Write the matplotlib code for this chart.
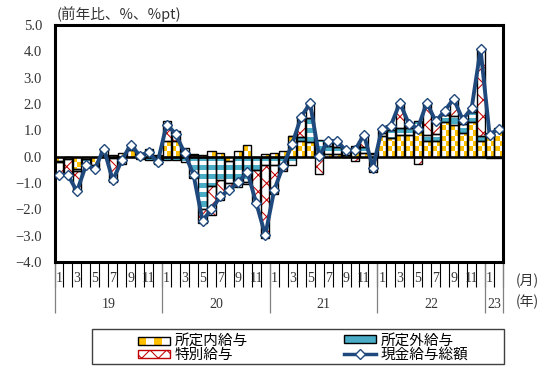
import numpy as np
import matplotlib.pyplot as plt
from matplotlib.colors import ListedColormap
from matplotlib.patches import Patch, Rectangle
from matplotlib.lines import Line2D
from matplotlib.path import Path

plt.rcParams['font.family'] = ['Noto Sans CJK JP', 'DejaVu Sans']
plt.rcParams['hatch.linewidth'] = 0.75

# ---- data (前年比, %, %pt), Jan 2019 - Feb 2023 ----
years = ['19', '20', '21', '22', '23']
months = list(range(1, 13)) * 4 + [1, 2]

scheduled = [-0.15, -0.10, -0.45, -0.10, -0.30, 0.05, 0.08, 0.15, 0.25, 0.10, 0.15, 0.05,
             0.60, 0.60, 0.15, 0.05, 0.08, 0.20, 0.15, -0.15, 0.20, 0.45, 0.00, 0.10,
             0.15, 0.20, 0.78, 0.60, 0.55, 0.15, 0.10, 0.10, 0.05, 0.20, 0.15, 0.10,
             0.80, 0.72, 0.84, 0.84, 0.95, 0.58, 0.60, 1.30, 1.20, 0.90, 1.30, 0.60,
             0.84, 1.05]
overtime = [-0.05, 0.00, -0.10, -0.20, -0.05, 0.00, -0.05, -0.10, 0.05, -0.10, -0.12, -0.10,
            -0.14, -0.12, -0.20, -0.80, -2.00, -1.10, -0.90, -0.85, -0.88, -0.95, -0.50, -0.30,
            -0.30, -0.30, -0.30, 0.15, 0.90, 0.50, 0.30, 0.25, 0.20, 0.22, 0.20, 0.05,
            0.10, 0.30, 0.25, 0.25, 0.40, 0.26, 0.26, 0.30, 0.35, 0.35, 0.40, 0.20,
            0.05, 0.05]
special = [-0.49, -0.59, -0.77, -0.03, -0.12, 0.26, -0.93, -0.19, 0.16, 0.04, 0.14, -0.17,
           0.76, 0.39, 0.19, 0.06, -0.51, -1.10, -0.76, -0.26, -0.29, -0.08, -1.27, -2.78,
           -1.11, -0.24, 0.00, 0.77, 0.57, -0.64, 0.21, 0.23, -0.01, -0.18, 0.49, -0.58,
           0.16, 0.16, 0.96, 0.16, -0.29, 1.21, 0.48, 0.14, 0.65, 0.16, 0.13, 3.28,
           -0.05, -0.04]
total = [-0.69, -0.69, -1.32, -0.33, -0.47, 0.31, -0.90, -0.14, 0.46, 0.04, 0.17, -0.22,
         1.22, 0.87, 0.14, -0.69, -2.43, -2.00, -1.51, -1.26, -0.97, -0.58, -1.77, -2.98,
         -1.26, -0.34, 0.48, 1.52, 2.02, 0.01, 0.61, 0.58, 0.24, 0.24, 0.84, -0.43,
         1.06, 1.18, 2.05, 1.25, 1.06, 2.05, 1.34, 1.74, 2.20, 1.41, 1.83, 4.08,
         0.84, 1.06]

labels = ['所定内給与', '所定外給与', '特別給与', '現金給与総額']
YELLOW, TEAL, RED, NAVY = '#FFC000', '#4BACC6', '#C00000', '#1F497D'

n = len(total)
x = np.arange(n)
comps = np.array([scheduled, overtime, special])
pos = np.clip(comps, 0, None)
neg = np.clip(comps, None, 0)
bot_pos = np.vstack([np.zeros(n), np.cumsum(pos, axis=0)[:-1]])
bot_neg = np.vstack([np.zeros(n), np.cumsum(neg, axis=0)[:-1]])
bottoms = np.where(comps >= 0, bot_pos, bot_neg)

fig = plt.figure(figsize=(5.43, 3.67), dpi=100)
ax = fig.add_axes([54.5 / 543, 1 - 262 / 367, 448.5 / 543, 237 / 367])
w = 0.9


def clip_image(bars, img, cmap, ymin, ymax):
    paths = [b.get_path().transformed(b.get_patch_transform()) for b in bars]
    cp = Path.make_compound_path(*paths)
    im = ax.imshow(img, cmap=cmap, origin='lower', aspect='auto', interpolation='nearest',
                   extent=(-0.5, n - 0.5, ymin, ymax), zorder=2)
    im.set_clip_path(cp, transform=ax.transData)


# 所定内給与: yellow/white checker
b1 = ax.bar(x, scheduled, w, bottom=bottoms[0], facecolor='none', edgecolor='black', lw=1, zorder=3)
rr, cc = np.mgrid[0:45, 0:2 * n]
clip_image(b1, (rr + cc) % 2, ListedColormap(['white', YELLOW]), -4, 5)

# 所定外給与: teal with white stripes
b2 = ax.bar(x, overtime, w, bottom=bottoms[1], facecolor='none', edgecolor='black', lw=1, zorder=3)
rows = np.arange(180)
stripes = np.repeat(((rows % 7) < 4).astype(int)[:, None], 2, axis=1)
clip_image(b2, stripes, ListedColormap(['white', TEAL]), -4, 5)

# 特別給与: red cross hatch
ax.bar(x, special, w, bottom=bottoms[2], facecolor='white', edgecolor=RED, hatch='xx', lw=0, zorder=2)
ax.bar(x, special, w, bottom=bottoms[2], facecolor='none', edgecolor='black', lw=1, zorder=3)

ax.axhline(0, color='black', lw=1.8, zorder=3.5)
ax.plot(x, total, color=NAVY, lw=2.8, marker='D', ms=5, mfc='white', mec=NAVY, mew=1, zorder=5)

ax.set_xlim(-0.5, n - 0.5)
ax.set_ylim(-4, 5)
ax.set_yticks(np.arange(-4, 5.1, 1))
ax.set_yticklabels([f'{v:.1f}'.replace('-', '\u2212') for v in np.arange(-4, 5.1, 1)],
                   fontfamily='Liberation Serif', fontsize=10.5, color='#333333')
ax.tick_params(axis='y', length=0, pad=9)
ax.set_xticks([])
for s in ax.spines.values():
    s.set_linewidth(2.2)

# two-level category axis
trans = ax.get_xaxis_transform()
ax.vlines(np.arange(n + 1) - 0.5, -0.105, 0, transform=trans, colors='black', lw=0.8, clip_on=False)
ax.vlines([-0.5, 11.5, 23.5, 35.5, 47.5, n - 0.5], -0.215, 0, transform=trans,
          colors='#808080', lw=0.9, clip_on=False)
for i, m in enumerate(months):
    if m % 2 == 1:
        ax.text(i, -0.068, str(m), transform=trans, ha='center', va='center',
                fontfamily='Liberation Serif', fontsize=10, color='#333333')
for k, yr in enumerate(years):
    c = 12 * k + 5.5 if k < 4 else 48.5
    ax.text(c, -0.18, yr, transform=trans, ha='center', va='center',
            fontfamily='Liberation Serif', fontsize=10, color='#333333')
fig.text(527 / 543, 1 - 281 / 367, '(月)', ha='center', va='center', fontsize=10, color='#333333')
fig.text(527 / 543, 1 - 302 / 367, '(年)', ha='center', va='center', fontsize=10, color='#333333')
fig.text(57 / 543, 1 - 14 / 367, '(前年比、%、%pt)', ha='left', va='center', fontsize=10.5, color='#333333')


# legend
class CheckerHandler:
    def legend_artist(self, legend, orig_handle, fontsize, handlebox):
        x0, y0 = handlebox.xdescent, handlebox.ydescent
        hw, hh = handlebox.width, handlebox.height
        t = handlebox.get_transform()
        for k in range(4):
            handlebox.add_artist(Rectangle((x0 + k * hw / 4, y0), hw / 4, hh,
                                           facecolor=YELLOW if k % 2 == 0 else 'white',
                                           lw=0, transform=t))
        box = Rectangle((x0, y0), hw, hh, facecolor='none', edgecolor='black', lw=1, transform=t)
        handlebox.add_artist(box)
        return box


h_in = Patch(facecolor=YELLOW)
h_ov = Patch(facecolor=TEAL, edgecolor='black', lw=1)
h_sp = Patch(facecolor='white', edgecolor=RED, hatch='xx', lw=1)
h_tot = Line2D([], [], color=NAVY, lw=2.5, marker='D', ms=5, mfc='white', mec=NAVY)
fig.legend([h_in, h_sp, h_ov, h_tot], [labels[0], labels[2], labels[1], labels[3]], ncol=2,
           loc='upper left', bbox_to_anchor=(131 / 543, 1 - 326 / 367), frameon=False,
           borderpad=0, fontsize=10.5, handlelength=2.2, handleheight=0.5, handletextpad=0.3,
           labelspacing=0.05, columnspacing=6.6, handler_map={h_in: CheckerHandler()})
fig.add_artist(Rectangle((92 / 543, 1 - 364 / 367), 412 / 543, 35 / 367, transform=fig.transFigure,
                         fill=False, edgecolor='#404040', lw=1))

fig.savefig('out.png', dpi=100)
